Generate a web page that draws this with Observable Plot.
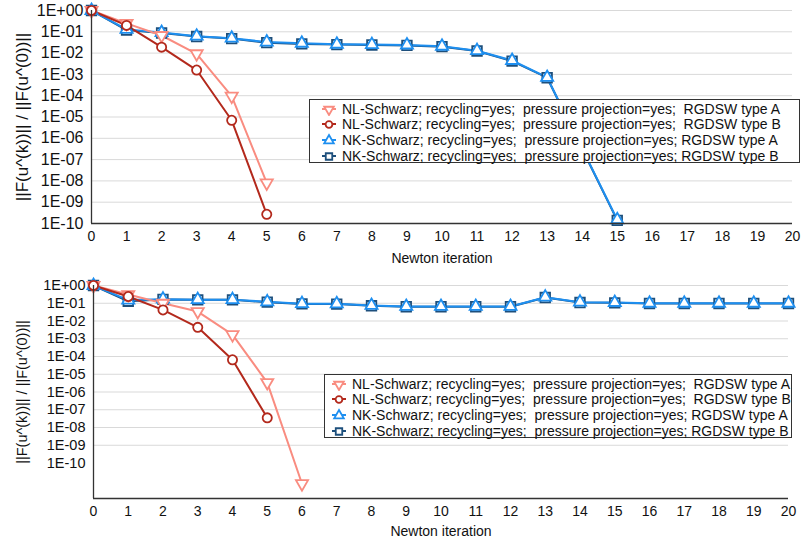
<!DOCTYPE html>
<html>
<head>
<meta charset="utf-8">
<script src="https://cdn.jsdelivr.net/npm/d3@7"></script>
<script src="https://cdn.jsdelivr.net/npm/@observablehq/plot@0.6"></script>
<style>
  html, body { margin: 0; padding: 0; background: #fff; }
  #wrap { position: relative; width: 802px; height: 548px; font-family: "Liberation Sans", Arial, sans-serif; }
  .panel { position: absolute; left: 0; width: 802px; }
  .legend { position: absolute; background: #fff; border: 1px solid #333; box-sizing: border-box; font-size: 14px; color: #111; }
  .legend .row { display: flex; align-items: center; height: 15.6px; white-space: pre; }
  .legend svg { flex: none; }
</style>
</head>
<body>
<div id="wrap"></div>
<script>
// ---------- data ----------
const seriesNames = [
  "NL-Schwarz; recycling=yes;  pressure projection=yes;  RGDSW type A",
  "NL-Schwarz; recycling=yes;  pressure projection=yes;  RGDSW type B",
  "NK-Schwarz; recycling=yes;  pressure projection=yes; RGDSW type A",
  "NK-Schwarz; recycling=yes;  pressure projection=yes; RGDSW type B"
];
const xTicks = d3.range(0, 21);

// top panel
const topNLA_x = [0, 1, 2, 3, 4, 5];
const topNLA_y = [1, 0.25, 0.067, 0.0093, 9.5e-5, 8e-9];
const topNLB_x = [0, 1, 2, 3, 4, 5];
const topNLB_y = [1, 0.2, 0.019, 1.6e-3, 7e-6, 2.7e-10];
const topNKA_x = [0, 1, 2, 3, 4, 5, 6, 7, 8, 9, 10, 11, 12, 13, 15];
const topNKA_y = [1, 0.13, 0.092, 0.062, 0.05, 0.033, 0.029, 0.026, 0.025, 0.024, 0.021, 0.013, 0.0045, 7.2e-4, 1.5e-10];
const topNKB_x = [0, 1, 2, 3, 4, 5, 6, 7, 8, 9, 10, 11, 12, 13, 15];
const topNKB_y = [1, 0.12, 0.088, 0.06, 0.048, 0.031, 0.027, 0.025, 0.024, 0.023, 0.02, 0.0125, 0.0042, 7e-4, 1.4e-10];
const topYTicks = [1, 1e-1, 1e-2, 1e-3, 1e-4, 1e-5, 1e-6, 1e-7, 1e-8, 1e-9, 1e-10];
const topGrid = [1, 1e-1, 1e-2, 1e-3, 1e-4, 1e-5, 1e-6, 1e-7, 1e-8, 1e-9];

// bottom panel
const botNLA_x = [0, 1, 2, 3, 4, 5, 6];
const botNLA_y = [1, 0.31, 0.1, 0.034, 1.7e-3, 3.4e-6, 6.8e-12];
const botNLB_x = [0, 1, 2, 3, 4, 5];
const botNLB_y = [1, 0.24, 0.042, 4.4e-3, 6.5e-5, 3.5e-8];
const botNKA_x = d3.range(0, 21);
const botNKA_y = [1, 0.15, 0.17, 0.16, 0.16, 0.12, 0.095, 0.093, 0.075, 0.066, 0.066, 0.066, 0.066, 0.22, 0.115, 0.11, 0.1, 0.1, 0.1, 0.1, 0.1];
const botNKB_x = d3.range(0, 21);
const botNKB_y = [1, 0.13, 0.165, 0.155, 0.155, 0.115, 0.092, 0.09, 0.072, 0.064, 0.064, 0.064, 0.064, 0.21, 0.11, 0.105, 0.097, 0.097, 0.097, 0.097, 0.097];
const botYTicks = [1, 1e-1, 1e-2, 1e-3, 1e-4, 1e-5, 1e-6, 1e-7, 1e-8, 1e-9, 1e-10];
const botGrid = [1, 1e-1, 1e-2, 1e-3, 1e-4, 1e-5, 1e-6, 1e-7, 1e-8, 1e-9];

// ---------- styles ----------
const styles = [
  {color: "#f98c80", symbol: "triangle", rotate: 180, r: 4.5},
  {color: "#b3291c", symbol: "circle", rotate: 0, r: 4.6},
  {color: "#1e8ff0", symbol: "triangle", rotate: 0, r: 4.5},
  {color: "#1d4f7c", symbol: "square", rotate: 0, r: 5.4}
];
const drawOrder = [3, 2, 0, 1];

const fmt = d => {
  const e = Math.round(Math.log10(d));
  return "1E" + (e >= 0 ? "+" : "-") + String(Math.abs(e)).padStart(2, "0");
};

function toRows(xs, ys) { return xs.map((x, i) => ({x, y: ys[i]})); }

function panel(cfg) {
  const marks = [
    Plot.ruleY(cfg.grid, {y: d => d, stroke: "#d9d9d9", strokeWidth: 1}),
  ];
  for (const i of drawOrder) {
    const data = toRows(cfg.series[i][0], cfg.series[i][1]);
    const s = styles[i];
    marks.push(Plot.line(data, {x: "x", y: "y", stroke: s.color, strokeWidth: 2}));
  }
  for (const i of drawOrder) {
    const data = toRows(cfg.series[i][0], cfg.series[i][1]);
    const s = styles[i];
    marks.push(Plot.dot(data, {x: "x", y: "y", symbol: () => s.symbol, rotate: s.rotate, r: s.r,
      stroke: s.color, strokeWidth: 1.8, fill: "white"}));
  }
  marks.push(Plot.ruleX([0], {stroke: "#333", strokeWidth: 1.3}));
  marks.push(Plot.ruleY([cfg.ymin], {stroke: "#333", strokeWidth: 1.3}));
  marks.push(Plot.axisX({ticks: xTicks, tickSize: 0, tickPadding: 8, tickFormat: d => String(d),
    fontSize: 14, label: null}));
  marks.push(Plot.text(["Newton iteration"], {frameAnchor: "bottom", dy: cfg.xlabelDy, fontSize: 14, fill: "#111"}));
  marks.push(Plot.axisY({ticks: cfg.yticks, tickSize: 0, tickPadding: 8, tickFormat: fmt,
    fontSize: cfg.ytickSize, label: null}));
  marks.push(Plot.text(["||F(u^(k))|| / ||F(u^(0))||"], {frameAnchor: "left", textAnchor: "middle", dx: -cfg.ml + 22, rotate: -90, fontSize: cfg.ylabelSize, fill: "#111"}));
  return Plot.plot({
    width: 802,
    height: cfg.height,
    marginLeft: cfg.ml, marginRight: cfg.mr, marginTop: cfg.mt, marginBottom: cfg.mb,
    style: {fontFamily: "'Liberation Sans', Arial, sans-serif", fontSize: "14px", color: "#111", background: "white", overflow: "visible"},
    x: {domain: [0, 20]},
    y: {type: "log", domain: [cfg.ymin, 1]},
    marks
  });
}

function legendSymbol(s) {
  const ns = "http://www.w3.org/2000/svg";
  const svg = document.createElementNS(ns, "svg");
  svg.setAttribute("width", 22); svg.setAttribute("height", 14);
  const line = document.createElementNS(ns, "line");
  line.setAttribute("x1", 2); line.setAttribute("x2", 16); line.setAttribute("y1", 7); line.setAttribute("y2", 7);
  line.setAttribute("stroke", s.color); line.setAttribute("stroke-width", 2);
  svg.appendChild(line);
  const p = document.createElementNS(ns, "path");
  const typ = s.symbol === "circle" ? d3.symbolCircle : s.symbol === "square" ? d3.symbolSquare : d3.symbolTriangle;
  const size = s.symbol === "square" ? 42 : s.symbol === "circle" ? 36 : 40;
  p.setAttribute("d", d3.symbol(typ, size)());
  p.setAttribute("transform", `translate(9,7.5) rotate(${s.rotate})`);
  p.setAttribute("fill", "white"); p.setAttribute("stroke", s.color); p.setAttribute("stroke-width", 1.8);
  svg.appendChild(p);
  return svg;
}

function legend(left, top, width, height, padLeft) {
  const div = document.createElement("div");
  div.className = "legend";
  Object.assign(div.style, {left: left + "px", top: top + "px", width: width + "px", height: height + "px", paddingTop: "1px", paddingLeft: padLeft + "px"});
  seriesNames.forEach((name, i) => {
    const row = document.createElement("div");
    row.className = "row";
    row.appendChild(legendSymbol(styles[i]));
    const t = document.createElement("span");
    t.textContent = name;
    row.appendChild(t);
    div.appendChild(row);
  });
  return div;
}

const wrap = document.getElementById("wrap");

const top1 = document.createElement("div");
top1.className = "panel"; top1.style.top = "0px";
top1.appendChild(panel({
  height: 274, ml: 91, mr: 10, mt: 10, mb: 51, ymin: 1e-10, ytickSize: 16, ylabelSize: 17, xlabelDy: 39,
  yticks: topYTicks, grid: topGrid,
  series: [[topNLA_x, topNLA_y], [topNLB_x, topNLB_y], [topNKA_x, topNKA_y], [topNKB_x, topNKB_y]]
}));
wrap.appendChild(top1);

const bot = document.createElement("div");
bot.className = "panel"; bot.style.top = "274px";
bot.appendChild(panel({
  height: 274, ml: 93, mr: 14, mt: 11, mb: 50, ymin: 1e-12, ytickSize: 14.5, ylabelSize: 14.5, xlabelDy: 37,
  yticks: botYTicks, grid: botGrid,
  series: [[botNLA_x, botNLA_y], [botNLB_x, botNLB_y], [botNKA_x, botNKA_y], [botNKB_x, botNKB_y]]
}));
wrap.appendChild(bot);

wrap.appendChild(legend(309, 99, 491, 64, 10));
wrap.appendChild(legend(324, 374, 468, 64, 5));
</script>
</body>
</html>
